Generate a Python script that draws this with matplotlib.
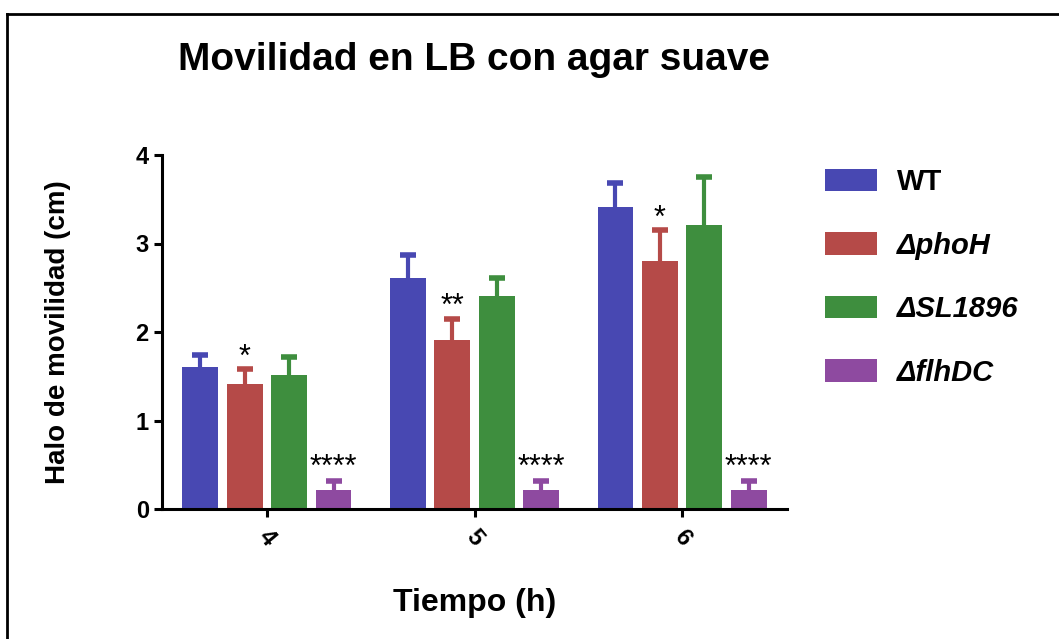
import matplotlib.pyplot as plt
import numpy as np

# data
times = ["4", "5", "6"]
strains = ["WT", "\u0394phoH", "\u0394SL1896", "\u0394flhDC"]
wt = [1.60, 2.61, 3.41]
wt_err = [0.14, 0.26, 0.27]
phoh = [1.41, 1.91, 2.80]
phoh_err = [0.17, 0.24, 0.35]
sl1896 = [1.51, 2.41, 3.21]
sl1896_err = [0.21, 0.20, 0.54]
flhdc = [0.21, 0.21, 0.21]
flhdc_err = [0.11, 0.11, 0.11]
phoh_sig = ["*", "**", "*"]
flhdc_sig = ["****", "****", "****"]

colors = ["#4848B2", "#B54A48", "#3E8E3E", "#8E4AA0"]

plt.rcParams['font.family'] = ['Liberation Sans', 'DejaVu Sans']

fig = plt.figure(figsize=(10.59, 6.39), dpi=100)
W, H = 1059, 639
ax = fig.add_axes([162 / W, 1 - 509 / H, (787 - 162) / W, (509 - 155) / H])

x = np.arange(len(times))
step = 0.214
width = 0.173
means = [wt, phoh, sl1896, flhdc]
errs = [wt_err, phoh_err, sl1896_err, flhdc_err]

for i, (m, e) in enumerate(zip(means, errs)):
    pos = x + (i - 1.5) * step
    ax.bar(pos, m, width, color=colors[i], label=strains[i], zorder=2)
    eb = ax.errorbar(pos, m, yerr=[np.zeros(len(m)), e], fmt='none', ecolor=colors[i],
                     elinewidth=3, capsize=5.5, capthick=4, zorder=1)
    eb[1][0].set_visible(False)  # only the upper cap

# significance marks
for j in range(len(times)):
    ax.text(x[j] - 0.5 * step, phoh[j] + phoh_err[j] + 0.13, phoh_sig[j],
            ha='center', va='center', fontsize=22)
    ax.text(x[j] + 1.5 * step, flhdc[j] + flhdc_err[j] + 0.14, flhdc_sig[j],
            ha='center', va='center', fontsize=22)

ax.set_xlim(-0.505, 2.505)
ax.set_ylim(0, 4)
ax.set_yticks([0, 1, 2, 3, 4])
ax.set_xticks(x)
ax.set_xticklabels(times, rotation=-50, ha='center', fontsize=17, fontweight='bold')
ax.tick_params(axis='y', labelsize=17, width=2.2, length=6)
ax.tick_params(axis='x', width=2.2, length=6, pad=6)
for t in ax.get_yticklabels():
    t.set_fontweight('bold')

for s in ['top', 'right']:
    ax.spines[s].set_visible(False)
for s in ['left', 'bottom']:
    ax.spines[s].set_linewidth(2.2)

ax.set_ylabel("Halo de movilidad (cm)", fontsize=20, fontweight='bold')
ax.yaxis.set_label_coords(-0.145, 0.5)
fig.text(475 / W, 1 - 603 / H, "Tiempo (h)", ha='center', va='center',
         fontsize=23, fontweight='bold')
fig.text(474 / W, 1 - 60 / H, "Movilidad en LB con agar suave", ha='center',
         va='center', fontsize=28, fontweight='bold')

leg = ax.legend(loc='upper left', bbox_to_anchor=(825 / W, 1 - 168 / H),
                bbox_transform=fig.transFigure, frameon=False, borderpad=0,
                borderaxespad=0, handlelength=1.78, handleheight=0.8,
                handletextpad=0.7, labelspacing=1.22,
                prop={'size': 21, 'weight': 'bold'})
for t in leg.get_texts()[1:]:
    t.set_style('italic')

# frame around the figure (only left and top visible)
fig.add_artist(plt.Line2D([7 / W, 7 / W], [0, 1 - 14 / H], transform=fig.transFigure,
                          color='black', lw=2))
fig.add_artist(plt.Line2D([7 / W, 1], [1 - 14 / H, 1 - 14 / H], transform=fig.transFigure,
                          color='black', lw=2))

fig.savefig("out.png", dpi=100)
